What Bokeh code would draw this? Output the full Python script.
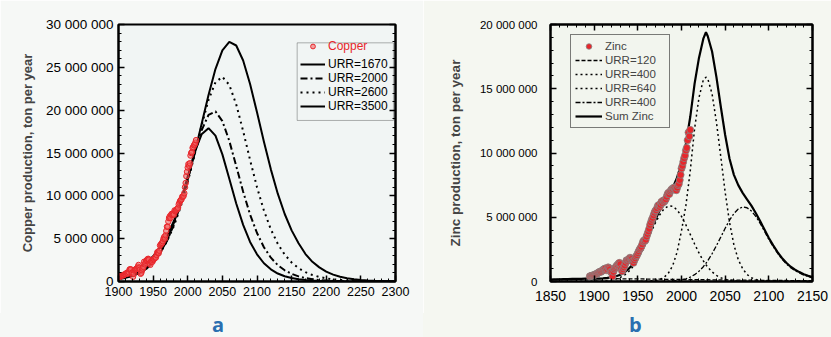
from bokeh.plotting import figure
from bokeh.models import (Range1d, FixedTicker, LinearAxis, Legend, LegendItem,
                          BoxAnnotation, Div)
from bokeh.layouts import row, column
from bokeh.embed import file_html
from bokeh.resources import INLINE

FONT = "Liberation Sans"

# ---------------- Panel a: copper (values in million tonnes per year) -------------
copper_years = list(range(1900, 2013))
copper_mt = [
    0.50, 0.53, 0.56, 0.60, 0.65, 0.70, 0.72, 0.72, 0.75, 0.85,
    0.87, 0.89, 1.02, 1.00, 0.92, 1.08, 1.40, 1.43, 1.40, 1.00,
    0.96, 0.55, 0.90, 1.30, 1.38, 1.42, 1.50, 1.55, 1.72, 1.93,
    1.60, 1.38, 0.90, 1.02, 1.30, 1.50, 1.70, 2.30, 2.00, 2.20,
    2.40, 2.50, 2.60, 2.65, 2.55, 2.10, 1.95, 2.30, 2.40, 2.30,
    2.50, 2.60, 2.70, 2.80, 2.80, 3.10, 3.40, 3.45, 3.30, 3.60,
    4.20, 4.30, 4.40, 4.50, 4.70, 5.00, 5.20, 5.00, 5.40, 5.90,
    6.40, 6.40, 7.00, 7.40, 7.60, 7.40, 7.80, 7.90, 7.80, 7.90,
    7.80, 8.30, 8.20, 8.30, 8.40, 8.50, 8.60, 9.00, 9.20, 9.40,
    9.50, 9.60, 9.90, 9.90, 10.00, 10.30, 11.00, 11.50, 12.30, 12.80,
    13.30, 13.70, 13.50, 13.80, 14.70, 15.00, 15.10, 15.60, 15.70, 15.90,
    16.00, 16.20, 16.50]

curve_years = list(range(1900, 2301, 10))
urr1670 = [0.28, 0.42, 0.64, 0.98, 1.47, 2.22, 3.29, 4.80, 6.83, 9.39,
           12.29, 15.10, 17.18, 17.90, 17.02, 14.84, 12.00, 9.11, 6.61, 4.62,
           3.17, 2.13, 1.42, 0.93, 0.61, 0.40, 0.26, 0.17, 0.11, 0.07,
           0.05, 0.03, 0.02, 0.01, 0.01, 0.01, 0.01, 0.01, 0.01, 0.01, 0.01]
urr2000 = [0.33, 0.49, 0.72, 1.07, 1.57, 2.29, 3.32, 4.74, 6.63, 9.05,
           11.90, 14.93, 17.65, 19.45, 19.85, 18.73, 16.41, 13.47, 10.48, 7.82,
           5.66, 4.00, 2.78, 1.91, 1.31, 0.89, 0.60, 0.41, 0.27, 0.18,
           0.12, 0.08, 0.05, 0.04, 0.02, 0.02, 0.01, 0.01, 0.01, 0.01, 0.01]
urr2600 = [0.39, 0.57, 0.82, 1.17, 1.67, 2.37, 3.35, 4.69, 6.48, 8.78,
           11.61, 14.84, 18.20, 21.19, 23.25, 23.89, 22.95, 20.67, 17.56, 14.19,
           11.01, 8.28, 6.09, 4.40, 3.14, 2.22, 1.56, 1.09, 0.76, 0.53,
           0.37, 0.25, 0.18, 0.12, 0.08, 0.06, 0.04, 0.03, 0.02, 0.01, 0.01]
urr3500 = [0.62, 0.85, 1.17, 1.59, 2.17, 2.94, 3.97, 5.32, 7.06, 9.24,
           11.90, 14.99, 18.38, 21.78, 24.80, 26.99, 27.97, 27.55, 25.80, 23.06,
           19.75, 16.32, 13.09, 10.25, 7.88, 5.97, 4.47, 3.20, 2.30, 1.65,
           1.15, 0.80, 0.55, 0.38, 0.26, 0.18, 0.12, 0.08, 0.05, 0.03, 0.02]

a_xticks = [1900, 1950, 2000, 2050, 2100, 2150, 2200, 2250, 2300]
a_yticks = [0, 5, 10, 15, 20, 25, 30]
a_ylabels = ["0", "5 000 000", "10 000 000", "15 000 000", "20 000 000",
             "25 000 000", "30 000 000"]

# ---------------- Panel b: zinc (million tonnes per year) -------------
zinc_years = list(range(1895, 2011))
zinc_mt = [
    0.40, 0.42, 0.44, 0.47, 0.48,
    0.50, 0.53, 0.58, 0.60, 0.65, 0.70, 0.74, 0.78, 0.75, 0.83,
    0.90, 0.95, 1.00, 1.02, 0.88, 0.95, 1.10, 1.05, 0.95, 0.75,
    0.72, 0.40, 0.75, 0.95, 1.05, 1.15, 1.25, 1.30, 1.40, 1.45,
    1.35, 1.00, 0.80, 0.95, 1.10, 1.25, 1.45, 1.65, 1.60, 1.70,
    1.75, 1.85, 1.80, 1.75, 1.60, 1.45, 1.65, 1.80, 1.95, 2.05,
    2.20, 2.35, 2.50, 2.60, 2.70, 2.90, 3.10, 3.20, 3.15, 3.25,
    3.50, 3.70, 3.90, 4.10, 4.40, 4.60, 4.80, 4.95, 5.15, 5.35,
    5.50, 5.55, 5.70, 5.90, 5.95, 5.80, 5.95, 6.20, 6.10, 6.30,
    6.20, 6.30, 6.40, 6.60, 6.80, 6.90, 6.80, 7.00, 7.10, 7.20,
    7.20, 7.30, 7.30, 7.20, 7.10, 7.30, 7.50, 7.60, 7.90, 8.30,
    8.80, 9.00, 9.30, 9.60, 9.80, 10.20, 10.40, 11.00, 11.60, 11.30, 11.80]

zc_years = list(range(1850, 2026, 5)) + [2028] + list(range(2030, 2151, 5))
z_urr120 = [0.15, 0.16, 0.17, 0.18, 0.19, 0.20, 0.21, 0.21, 0.22, 0.22,
            0.22, 0.22, 0.22, 0.22, 0.22, 0.22, 0.21, 0.21, 0.21, 0.20,
            0.20, 0.20, 0.19, 0.19, 0.18, 0.18, 0.17, 0.17, 0.17, 0.16,
            0.16, 0.15, 0.15, 0.15, 0.14, 0.14,
            0.14,
            0.14, 0.13, 0.13, 0.12, 0.12, 0.12, 0.11, 0.11, 0.11, 0.10,
            0.10, 0.10, 0.09, 0.09, 0.09, 0.08, 0.08, 0.08, 0.08, 0.07,
            0.07, 0.07, 0.07, 0.06, 0.06]
z_urr400a = [0, 0, 0, 0, 0, 0, 0, 0, 0, 0,
             0.01, 0.01, 0.03, 0.06, 0.10, 0.19, 0.32, 0.52, 0.81, 1.21,
             1.73, 2.35, 3.07, 3.82, 4.55, 5.18, 5.65, 5.88, 5.85, 5.57,
             5.07, 4.41, 3.67, 2.92, 2.22, 1.61,
             1.30,
             1.12, 0.75, 0.47, 0.29, 0.17, 0.09, 0.05, 0.03, 0.01, 0,
             0, 0, 0, 0, 0, 0, 0, 0, 0, 0,
             0, 0, 0, 0, 0]
z_urr640 = [0, 0, 0, 0, 0, 0, 0, 0, 0, 0,
            0, 0, 0, 0, 0, 0, 0, 0, 0, 0,
            0, 0.01, 0.02, 0.04, 0.08, 0.16, 0.32, 0.65, 1.25, 2.30,
            3.95, 5.90, 8.60, 11.90, 14.30, 15.70,
            15.90,
            15.80, 14.60, 12.40, 9.70, 6.95, 4.60, 2.85, 1.70, 1.00, 0.55,
            0.30, 0.16, 0.08, 0.04, 0.02, 0.01, 0.01, 0, 0, 0,
            0, 0, 0, 0, 0]
z_urr400b = [0, 0, 0, 0, 0, 0, 0, 0, 0, 0,
             0, 0, 0, 0, 0, 0, 0, 0, 0, 0,
             0, 0, 0, 0, 0, 0.01, 0.01, 0.02, 0.04, 0.07,
             0.12, 0.21, 0.34, 0.53, 0.80, 1.15,
             1.42,
             1.61, 2.16, 2.79, 3.46, 4.14, 4.77, 5.29, 5.64, 5.80, 5.74,
             5.49, 5.07, 4.53, 3.91, 3.28, 2.72, 2.20, 1.75, 1.38, 1.08,
             0.85, 0.66, 0.50, 0.38, 0.28]
z_sum = [0.15, 0.16, 0.17, 0.18, 0.19, 0.20, 0.21, 0.21, 0.22, 0.22,
         0.23, 0.23, 0.25, 0.28, 0.32, 0.41, 0.53, 0.73, 1.02, 1.41,
         1.93, 2.56, 3.28, 4.05, 4.81, 5.53, 6.15, 6.72, 7.31, 8.10,
         9.20, 10.70, 12.80, 15.40, 17.40, 18.90,
         19.40,
         19.10, 17.90, 15.90, 13.60, 11.40, 9.55, 8.30, 7.50, 6.90, 6.40,
         5.90, 5.33, 4.70, 4.04, 3.39, 2.81, 2.28, 1.83, 1.46, 1.15,
         0.92, 0.73, 0.57, 0.44, 0.34]

b_xticks = [1850, 1900, 1950, 2000, 2050, 2100, 2150]
b_yticks = [0, 5, 10, 15, 20]
b_ylabels = ["0", "5 000 000", "10 000 000", "15 000 000", "20 000 000"]

panel_labels = ["a", "b"]


def style_axis(ax, size, tick_len=6, minor_len=3):
    ax.axis_line_width = 2
    ax.axis_line_color = "black"
    ax.major_tick_in = tick_len
    ax.major_tick_out = 0
    ax.minor_tick_in = minor_len
    ax.minor_tick_out = 0
    ax.major_tick_line_width = 1.5
    ax.minor_tick_line_width = 1
    ax.major_label_text_font = FONT
    ax.major_label_text_font_size = size
    ax.major_label_text_color = "black"


def mirror_axis(p, ticker, side):
    ax = LinearAxis(ticker=ticker)
    style_axis(ax, "0px")
    ax.major_label_standoff = 0
    ax.major_label_text_alpha = 0
    p.add_layout(ax, side)


FIG_H = 313

# ---------------- figure a ----------------
pa = figure(width=423, height=FIG_H, x_range=Range1d(1900, 2300), y_range=Range1d(0, 30),
            output_backend="svg", toolbar_location=None, title=None,
            min_border_left=118, min_border_right=28, min_border_top=13, min_border_bottom=32,
            background_fill_color="#f1f5f4", border_fill_color="#f6f8f6",
            outline_line_color="black", outline_line_width=2)
pa.xgrid.visible = False
pa.ygrid.visible = False
xt_a = FixedTicker(ticks=a_xticks, minor_ticks=list(range(1900, 2301, 10)))
yt_a = FixedTicker(ticks=a_yticks, minor_ticks=list(range(0, 31, 1)))
pa.xaxis.ticker = xt_a
pa.yaxis.ticker = yt_a
style_axis(pa.xaxis[0], "12.5px")
style_axis(pa.yaxis[0], "13.5px")
pa.yaxis.major_label_overrides = dict(zip(a_yticks, a_ylabels))
pa.yaxis.axis_label = "Copper production, ton per year"
pa.yaxis.axis_label_text_font = FONT
pa.yaxis.axis_label_text_font_style = "bold"
pa.yaxis.axis_label_text_font_size = "13px"
pa.yaxis.axis_label_standoff = 8
mirror_axis(pa, yt_a, "right")

r1670 = pa.line(curve_years, urr1670, line_color="black", line_width=2)
r2000 = pa.line(curve_years, urr2000, line_color="black", line_width=2, line_dash="7 3 2 3")
r2600 = pa.line(curve_years, urr2600, line_color="black", line_width=2, line_dash="2 4")
r3500 = pa.line(curve_years, urr3500, line_color="black", line_width=2)
rcu = pa.scatter(copper_years, copper_mt, size=5.5, marker="circle",
                 fill_color="#f25a5a", fill_alpha=0.55, line_color="#e8262b", line_width=1)

pa.add_layout(BoxAnnotation(left=2158, right=2297, bottom=18.8, top=27.86,
                            fill_alpha=0, line_color="black", line_width=1))
common_leg = dict(label_text_font=FONT, label_text_font_size="12px", glyph_width=25,
                  glyph_height=12, label_height=12, label_standoff=3, spacing=0,
                  padding=2, margin=0, border_line_color=None, background_fill_alpha=0)
leg_cu = Legend(items=[LegendItem(label="Copper", renderers=[rcu])],
                location=(182, 228), label_text_color="#e8262b", **common_leg)
leg_urr = Legend(items=[LegendItem(label="URR=1670", renderers=[r1670]),
                        LegendItem(label="URR=2000", renderers=[r2000]),
                        LegendItem(label="URR=2600", renderers=[r2600]),
                        LegendItem(label="URR=3500", renderers=[r3500])],
                 location=(182, 168), label_text_color="black", **common_leg)
pa.add_layout(leg_cu)
pa.add_layout(leg_urr)

# ---------------- figure b ----------------
pb = figure(width=408, height=FIG_H, x_range=Range1d(1850, 2150), y_range=Range1d(0, 20),
            output_backend="svg", toolbar_location=None, title=None,
            min_border_left=127, min_border_right=19, min_border_top=24, min_border_bottom=29,
            background_fill_color="#f2f5ee", border_fill_color="#f5f7f1",
            outline_line_color="black", outline_line_width=2)
pb.xgrid.visible = False
pb.ygrid.visible = False
xt_b = FixedTicker(ticks=b_xticks, minor_ticks=list(range(1850, 2151, 10)))
yt_b = FixedTicker(ticks=b_yticks, minor_ticks=list(range(0, 21, 1)))
pb.xaxis.ticker = xt_b
pb.yaxis.ticker = yt_b
style_axis(pb.xaxis[0], "14px")
style_axis(pb.yaxis[0], "11.5px")
pb.xaxis.major_label_standoff = 9
pb.yaxis.major_label_standoff = 13
pb.yaxis.major_label_overrides = dict(zip(b_yticks, b_ylabels))
pb.yaxis.axis_label = "Zinc production, ton per year"
pb.yaxis.axis_label_text_font = FONT
pb.yaxis.axis_label_text_font_style = "bold"
pb.yaxis.axis_label_text_font_size = "13.5px"
pb.yaxis.axis_label_standoff = 14
mirror_axis(pb, xt_b, "above")
mirror_axis(pb, yt_b, "right")

s120 = pb.line(zc_years, z_urr120, line_color="black", line_width=1.3, line_dash="4 2")
s400a = pb.line(zc_years, z_urr400a, line_color="black", line_width=1.5, line_dash="2 3")
s640 = pb.line(zc_years, z_urr640, line_color="black", line_width=1.5, line_dash="2 3")
s400b = pb.line(zc_years, z_urr400b, line_color="black", line_width=1.3, line_dash="5 2 2 2")
ssum = pb.line(zc_years, z_sum, line_color="black", line_width=2.2)
rzn = pb.scatter(zinc_years, zinc_mt, size=7, marker="circle",
                 fill_color="#e8262b", line_color="#858585", line_width=0.8)

leg_zn = Legend(items=[LegendItem(label="Zinc", renderers=[rzn]),
                       LegendItem(label="URR=120", renderers=[s120]),
                       LegendItem(label="URR=400", renderers=[s400a]),
                       LegendItem(label="URR=640", renderers=[s640]),
                       LegendItem(label="URR=400", renderers=[s400b]),
                       LegendItem(label="Sum Zinc", renderers=[ssum])],
                location=(20, 153), label_text_font=FONT, label_text_font_size="11.5px",
                glyph_width=27, glyph_height=14, label_height=14, label_width=60,
                label_standoff=3, spacing=0, padding=4, margin=0,
                border_line_color="black", border_line_width=1, background_fill_alpha=0)
pb.add_layout(leg_zn)

# ---------------- panel letters ----------------
def letter_div(txt, left, width, bg):
    html = ('<div style="position:relative; left:%dpx; top:0px; font-family:\'Open Sans\';'
            ' font-weight:bold; font-size:20px; line-height:24px; color:#2a6fb0;">%s</div>'
            % (left, txt))
    return Div(text=html, width=width, height=337 - FIG_H, margin=0,
               styles={"background-color": bg, "overflow": "visible"})


da = letter_div(panel_labels[0], 212, 423, "#f6f8f6")
db = letter_div(panel_labels[1], 206, 408, "#f5f7f1")

layout = column(row(pa, pb), row(da, db))
open("out.html", "w").write(file_html(layout, INLINE))
